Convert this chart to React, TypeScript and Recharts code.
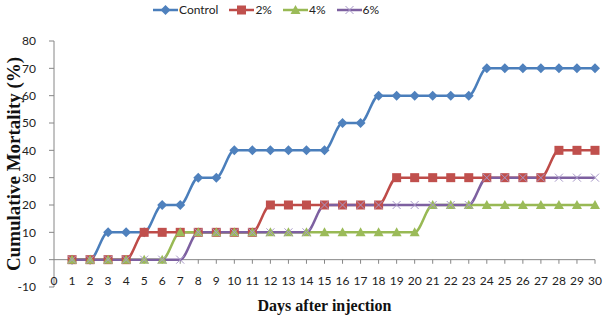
import React from 'react';
import { LineChart, Line, XAxis, YAxis, ReferenceLine } from 'recharts';

const days = [1, 2, 3, 4, 5, 6, 7, 8, 9, 10, 11, 12, 13, 14, 15, 16, 17, 18, 19, 20, 21, 22, 23, 24, 25, 26, 27, 28, 29, 30];
const control = [0, 0, 10, 10, 10, 20, 20, 30, 30, 40, 40, 40, 40, 40, 40, 50, 50, 60, 60, 60, 60, 60, 60, 70, 70, 70, 70, 70, 70, 70];
const dose2 = [0, 0, 0, 0, 10, 10, 10, 10, 10, 10, 10, 20, 20, 20, 20, 20, 20, 20, 30, 30, 30, 30, 30, 30, 30, 30, 30, 40, 40, 40];
const dose4 = [0, 0, 0, 0, 0, 0, 10, 10, 10, 10, 10, 10, 10, 10, 10, 10, 10, 10, 10, 10, 20, 20, 20, 20, 20, 20, 20, 20, 20, 20];
const dose6 = [0, 0, 0, 0, 0, 0, 0, 10, 10, 10, 10, 10, 10, 10, 20, 20, 20, 20, 20, 20, 20, 20, 20, 30, 30, 30, 30, 30, 30, 30];

const xTicks = [0, 1, 2, 3, 4, 5, 6, 7, 8, 9, 10, 11, 12, 13, 14, 15, 16, 17, 18, 19, 20, 21, 22, 23, 24, 25, 26, 27, 28, 29, 30];
const yTicks = [-10, 0, 10, 20, 30, 40, 50, 60, 70, 80];

const data = days.map((day, i) => ({
  day,
  control: control[i],
  d2: dose2[i],
  d4: dose4[i],
  d6: dose6[i],
}));

type Marker = 'diamond' | 'square' | 'triangle' | 'cross';

const series: { key: string; name: string; line: string; fill: string; marker: Marker }[] = [
  { key: 'control', name: 'Control', line: '#4A7EBB', fill: '#4F81BD', marker: 'diamond' },
  { key: 'd2', name: '2%', line: '#BE4B48', fill: '#C0504D', marker: 'square' },
  { key: 'd4', name: '4%', line: '#98B954', fill: '#9BBB59', marker: 'triangle' },
  { key: 'd6', name: '6%', line: '#7D60A0', fill: '#A898C8', marker: 'cross' },
];

const axisColor = '#868686';
const tickFont = 'Lato, "Open Sans", sans-serif';

const drawMarker = (marker: Marker, cx: number, cy: number, fill: string) => {
  switch (marker) {
    case 'diamond':
      return <path d={`M${cx},${cy - 5}L${cx + 5},${cy}L${cx},${cy + 5}L${cx - 5},${cy}Z`} fill={fill} />;
    case 'square':
      return <rect x={cx - 4.5} y={cy - 4.5} width={9} height={9} fill={fill} />;
    case 'triangle':
      return <path d={`M${cx},${cy - 5}L${cx + 5},${cy + 4}L${cx - 5},${cy + 4}Z`} fill={fill} />;
    default:
      return (
        <path
          d={`M${cx - 4},${cy - 4}L${cx + 4},${cy + 4}M${cx + 4},${cy - 4}L${cx - 4},${cy + 4}`}
          stroke={fill}
          strokeWidth={1}
          fill="none"
        />
      );
  }
};

const makeDot = (marker: Marker, fill: string) => (props: any) => {
  const { cx, cy, index } = props;
  if (cx == null || cy == null) return <g key={index} />;
  return <g key={index}>{drawMarker(marker, cx, cy, fill)}</g>;
};

const ChartLegend = () => (
  <div
    style={{
      position: 'absolute',
      top: 2,
      left: 153,
      display: 'flex',
      alignItems: 'center',
      fontFamily: tickFont,
      fontSize: 12,
      color: '#222',
    }}
  >
    {series.map((s) => (
      <div key={s.key} style={{ display: 'flex', alignItems: 'center', marginRight: 11 }}>
        <svg width={25} height={14}>
          <line x1={0} y1={7} x2={25} y2={7} stroke={s.line} strokeWidth={2.5} />
          {drawMarker(s.marker, 12.5, 7, s.fill)}
        </svg>
        <span style={{ marginLeft: 1 }}>{s.name}</span>
      </div>
    ))}
  </div>
);

export default function App() {
  return (
    <div style={{ position: 'absolute', left: 0, top: 0, width: 605, height: 325, background: '#fff' }}>
      <ChartLegend />
      <LineChart width={605} height={325} data={data} margin={{ top: 41, right: 10, bottom: 37, left: 0 }}>
        <XAxis
          dataKey="day"
          type="number"
          domain={[0, 30]}
          ticks={xTicks}
          interval={0}
          height={1}
          axisLine={false}
          tickLine={false}
          tickSize={0}
          tickMargin={-11}
          tick={{ fontSize: 12, fill: '#222', fontFamily: tickFont }}
          label={{
            value: 'Days after injection',
            position: 'bottom',
            offset: 12,
            style: { fontFamily: '"Liberation Serif", serif', fontWeight: 'bold', fontSize: 16, fill: '#111' },
          }}
        />
        <YAxis
          type="number"
          domain={[-10, 80]}
          ticks={yTicks}
          interval={0}
          width={54}
          stroke={axisColor}
          tickSize={5}
          tickMargin={13}
          tick={{ fontSize: 12, fill: '#222', fontFamily: tickFont }}
          label={{
            value: 'Cumulative Mortality (%)',
            angle: -90,
            position: 'insideLeft',
            offset: 13,
            style: {
              textAnchor: 'middle',
              fontFamily: '"Liberation Serif", serif',
              fontWeight: 'bold',
              fontSize: 19,
              fill: '#111',
            },
          }}
        />
        <ReferenceLine y={0} stroke={axisColor} strokeWidth={1} />
        {xTicks.slice(1).map((t) => (
          <ReferenceLine
            key={t}
            segment={[
              { x: t, y: 0 },
              { x: t, y: -1.5 },
            ]}
            stroke={axisColor}
            strokeWidth={1}
          />
        ))}
        {series.map((s) => (
          <Line
            key={s.key}
            type="monotone"
            dataKey={s.key}
            name={s.name}
            stroke={s.line}
            strokeWidth={2.5}
            dot={makeDot(s.marker, s.fill)}
            activeDot={false}
            isAnimationActive={false}
          />
        ))}
      </LineChart>
    </div>
  );
}
